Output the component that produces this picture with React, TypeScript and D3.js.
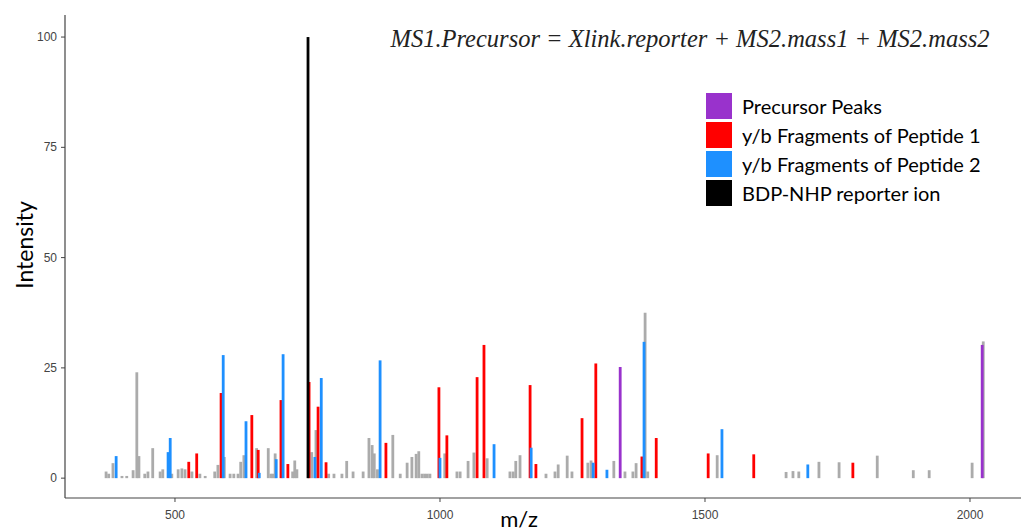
import React from "react";
import * as d3 from "d3";

// peaks as [m/z, relative intensity]
const unmatchedPeaks: [number, number][] = [
  [370, 1.5], [375, 1.0], [383, 3.4], [400, 0.5], [409, 0.5], [421, 1.8], [428, 24], [432, 5],
  [443, 1.0], [449, 1.5], [458, 6.8], [472, 1.5], [477, 2], [494, 1], [506, 2], [513, 2.2],
  [519, 2], [532, 1.5], [547, 1], [557, 0.5], [575, 1.5], [581, 3], [593, 4.8], [604, 1],
  [611, 1], [619, 1], [624, 3.7], [630, 5.2], [654, 6.8], [676, 6.8], [681, 1], [685, 1],
  [689, 5.6], [722, 1.5], [726, 4], [730, 2], [758, 5.9], [766, 10.9], [790, 1], [800, 1],
  [815, 1], [824, 3.9], [836, 1.5], [855, 1.5], [866, 9.1], [872, 7.5], [876, 5.6], [882, 2],
  [911, 9.8], [925, 1], [938, 3.5], [947, 4.8], [955, 5.5], [960, 6.1], [966, 1], [971, 1],
  [976, 1], [981, 1], [1009, 5.6], [1032, 1.5], [1038, 1.5], [1053, 3.9], [1064, 5.8],
  [1089, 4.5], [1132, 1.5], [1138, 1.5], [1143, 3.9], [1151, 5.2], [1200, 1], [1217, 1.5],
  [1223, 3.1], [1240, 5.1], [1249, 1.5], [1279, 3.5], [1285, 4], [1328, 3.9], [1349, 1.5],
  [1364, 1.5], [1370, 3.4], [1387, 37.5], [1392, 1.5], [1523, 5.2], [1653, 1.4], [1666, 1.6],
  [1677, 1.5], [1715, 3.7], [1753, 3.6], [1825, 5.1], [1893, 1.8], [1923, 1.8], [2004, 3.5],
  [2025, 31],
];
const peptide1Peaks: [number, number][] = [
  [526, 3.7], [541, 5.6], [587, 19.3], [645, 14.3], [657, 6.4], [700, 17.7], [713, 3.2],
  [753, 21.8], [770, 16.2], [785, 3.6], [898, 8.0], [998, 20.6], [1013, 9.7], [1070, 22.9],
  [1083, 30.2], [1170, 21.1], [1181, 3.2], [1268, 13.6], [1294, 26], [1381, 4.9],
  [1408, 9.1], [1506, 5.6], [1592, 5.4], [1779, 3.5],
];
const peptide2Peaks: [number, number][] = [
  [389, 5.0], [487, 5.9], [491, 9.1], [591, 27.9], [634, 12.9], [659, 1.2], [691, 4.3],
  [704, 28.1], [764, 4.8], [776, 22.7], [887, 26.7], [1000, 4.6], [1102, 7.7], [1172, 6.9],
  [1289, 3.5], [1315, 1.9], [1385, 30.9], [1532, 11.1], [1694, 3.1],
];
const precursorPeaks: [number, number][] = [[1340, 25.2], [2023, 30.2]];
const reporterPeaks: [number, number][] = [[751, 100]];

const legendLabels = [
  "Precursor Peaks",
  "y/b Fragments of Peptide 1",
  "y/b Fragments of Peptide 2",
  "BDP-NHP reporter ion",
];
const legendColors = ["#9932CC", "#FF0000", "#1E90FF", "#000000"];
const xTicks = [500, 1000, 1500, 2000];
const yTicks = [0, 25, 50, 75, 100];

const W = 1021;
const H = 531;

export default function App() {
  const x = d3.scaleLinear().domain([292.5, 2100]).range([65, 1023]);
  const y = d3.scaleLinear().domain([-4.5, 105]).range([498, 15]);
  const y0 = y(0);

  const bars = (data: [number, number][], color: string, key: string) =>
    data.map(([mz, v], i) => (
      <rect
        key={key + i}
        x={x(mz) - 1.4}
        y={y(v)}
        width={2.8}
        height={y0 - y(v)}
        fill={color}
      />
    ));

  return (
    <svg
      width={W}
      height={H}
      style={{ position: "absolute", left: 0, top: 0, background: "#fff" }}
    >
      {bars(unmatchedPeaks, "#ABABAB", "g")}
      {bars(peptide1Peaks, legendColors[1], "r")}
      {bars(peptide2Peaks, legendColors[2], "b")}
      {bars(precursorPeaks, legendColors[0], "p")}
      {bars(reporterPeaks, legendColors[3], "k")}

      {/* axes */}
      <line x1={65} x2={65} y1={15} y2={498} stroke="#444" strokeWidth={1.2} />
      <line x1={65} x2={W} y1={498} y2={498} stroke="#444" strokeWidth={1.2} />
      {yTicks.map((t) => (
        <g key={"yt" + t}>
          <line x1={61} x2={65} y1={y(t)} y2={y(t)} stroke="#444" />
          <text
            x={57}
            y={y(t)}
            textAnchor="end"
            dominantBaseline="central"
            fontFamily="Liberation Sans, Arial, sans-serif"
            fontSize={12}
            fill="#444"
          >
            {t}
          </text>
        </g>
      ))}
      {xTicks.map((t) => (
        <g key={"xt" + t}>
          <line x1={x(t)} x2={x(t)} y1={498} y2={502} stroke="#444" />
          <text
            x={x(t)}
            y={515}
            textAnchor="middle"
            dominantBaseline="central"
            fontFamily="Liberation Sans, Arial, sans-serif"
            fontSize={12}
            fill="#444"
          >
            {t}
          </text>
        </g>
      ))}
      <text
        transform={`translate(33,245) rotate(-90)`}
        textAnchor="middle"
        fontFamily="Lato, sans-serif"
        fontSize={23}
        fill="#000"
      >
        Intensity
      </text>
      <text
        x={519}
        y={527}
        textAnchor="middle"
        fontFamily="Lato, sans-serif"
        fontSize={22}
        fill="#000"
      >
        m/z
      </text>

      {/* formula */}
      <text
        x={690}
        y={47}
        textAnchor="middle"
        fontFamily="Liberation Serif, Times New Roman, serif"
        fontStyle="italic"
        fontSize={24.5}
        fill="#222"
      >
        MS1.Precursor = Xlink.reporter + MS2.mass1 + MS2.mass2
      </text>

      {/* legend */}
      {legendLabels.map((lab, i) => (
        <g key={"lg" + i} transform={`translate(706,${93 + i * 29})`}>
          <rect width={26} height={26} fill={legendColors[i]} />
          <text
            x={36}
            y={13}
            dominantBaseline="central"
            fontFamily="Lato, sans-serif"
            fontSize={20}
            fill="#000"
          >
            {lab}
          </text>
        </g>
      ))}
    </svg>
  );
}
